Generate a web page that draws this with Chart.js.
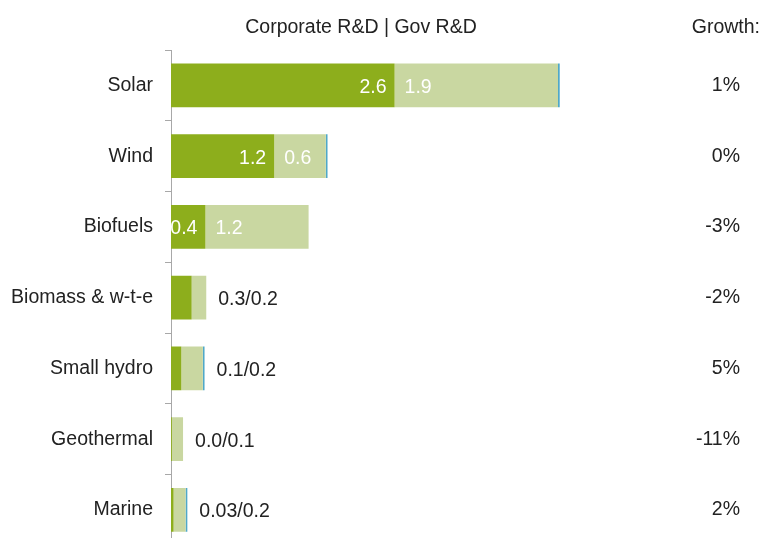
<!DOCTYPE html>
<html>
<head>
<meta charset="utf-8">
<script src="https://cdn.jsdelivr.net/npm/chart.js@4"></script>
<style>
  html, body { margin: 0; padding: 0; background: #fff; }
  #wrap { width: 763px; height: 538px; overflow: hidden; }
</style>
</head>
<body>
<div id="wrap"><canvas id="myCanvas" width="763" height="569"></canvas></div>
<script>
const categories = ['Solar', 'Wind', 'Biofuels', 'Biomass & w-t-e', 'Small hydro', 'Geothermal', 'Marine'];
const corporate = [2.6, 1.2, 0.4, 0.24, 0.12, 0.01, 0.03];
const government = [1.9, 0.6, 1.2, 0.17, 0.25, 0.13, 0.14];
const other = [0.02, 0.02, 0, 0, 0.02, 0, 0.02];
const corpText = ['2.6', '1.2', '0.4', '0.3', '0.1', '0.0', '0.03'];
const govText = ['1.9', '0.6', '1.2', '0.2', '0.2', '0.1', '0.2'];
const growth = ['1%', '0%', '-3%', '-2%', '5%', '-11%', '2%'];

const FONT = "'Liberation Sans', Arial, sans-serif";
const TEXT = '#222222';
const SIZE = 19.5;

// headers + value labels
const labelsPlugin = {
  id: 'labels',
  afterDatasetsDraw(chart) {
    const ctx = chart.ctx;
    ctx.save();
    ctx.font = SIZE + 'px ' + FONT;
    ctx.fillStyle = TEXT;
    ctx.textBaseline = 'alphabetic';
    ctx.textAlign = 'center';
    ctx.fillText('Corporate R&D | Gov R&D', 361, 33);
    ctx.textAlign = 'right';
    ctx.fillText('Growth:', 760, 33);

    const corpMeta = chart.getDatasetMeta(0).data;
    const govMeta = chart.getDatasetMeta(1).data;
    const otherMeta = chart.getDatasetMeta(2).data;
    ctx.textBaseline = 'middle';
    categories.forEach((c, i) => {
      const cb = corpMeta[i], gb = govMeta[i];
      const y = cb.y + 2;
      if (corporate[i] >= 0.4) {
        ctx.fillStyle = '#ffffff';
        ctx.textAlign = 'right';
        ctx.fillText(corpText[i], cb.x - 8, y);
        ctx.textAlign = 'left';
        ctx.fillText(govText[i], gb.base + 10, y);
      } else {
        const end = Math.max(gb.x, otherMeta[i].x);
        ctx.fillStyle = TEXT;
        ctx.textAlign = 'left';
        ctx.fillText(corpText[i] + '/' + govText[i], end + 12, y);
      }
    });
    ctx.restore();
  }
};

new Chart(document.getElementById('myCanvas'), {
  type: 'bar',
  data: {
    labels: categories,
    datasets: [
      { label: 'Corporate R&D', data: corporate, backgroundColor: '#8dae1c' },
      { label: 'Gov R&D', data: government, backgroundColor: '#c9d7a1' },
      { label: 'Other', data: other, backgroundColor: '#4fa8c8' },
    ],
  },
  options: {
    indexAxis: 'y',
    responsive: false,
    devicePixelRatio: 1,
    animation: false,
    layout: { padding: { top: 50, right: 23, left: 0, bottom: 0 } },
    datasets: { bar: { categoryPercentage: 0.62, barPercentage: 1 } },
    plugins: { legend: { display: false }, tooltip: { enabled: false } },
    scales: {
      x: { stacked: true, min: 0, max: 5, display: false },
      y: {
        stacked: true,
        afterFit: (scale) => { scale.width = 171; },
        grid: { drawOnChartArea: false, tickLength: 6, color: '#a8a8a8' },
        border: { color: '#a8a8a8' },
        ticks: { color: TEXT, padding: 12, font: { size: SIZE, family: FONT } },
      },
      y2: {
        type: 'category',
        labels: growth,
        position: 'right',
        offset: true,
        afterFit: (scale) => { scale.width = 139; },
        grid: { display: false },
        border: { display: false },
        ticks: { color: TEXT, crossAlign: 'far', padding: 0, font: { size: SIZE, family: FONT } },
      },
    },
  },
  plugins: [labelsPlugin],
});
</script>
</body>
</html>
